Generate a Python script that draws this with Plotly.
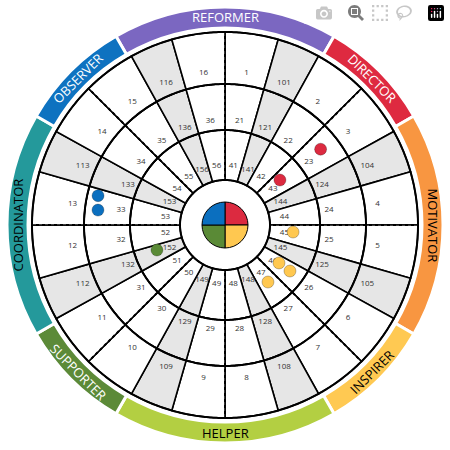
import numpy as np
import plotly.graph_objects as go

# ---- data ----
outer_labels = [1,101,2,3,104,4,5,105,6,7,108,8,9,109,10,11,112,12,13,113,14,15,116,16]
middle_labels = [21,121,22,23,124,24,25,125,26,27,128,28,29,129,30,31,132,32,33,133,34,35,136,36]
inner_labels = [41,141,42,43,144,44,45,145,46,47,148,48,49,149,50,51,152,52,53,153,54,55,156,56]
roles = ["REFORMER","DIRECTOR","MOTIVATOR","INSPIRER","HELPER","SUPPORTER","COORDINATOR","OBSERVER"]
role_centers = [0,45,90,135,180,225,270,315]
role_spans = [60,30,60,30,60,30,60,30]
role_colors = ["#7B67C1","#DE2A40","#F89641","#FFC952","#B3CF42","#5C8A38","#24999B","#0E72C0"]
role_text = ["white","white","black","black","black","white","black","white"]
quad_colors = ["#DC2A40","#FFC850","#5A8A36","#0B6FBF"]
quad_centers = [45,135,225,315]
dot_r = [130.3,127.9,122,71,68.4,66,79.6,71.4,72.5]
dot_theta = [283,276.7,51.6,50.7,95.9,125.1,125.3,143,249.8]
dot_color = ["#0B6FBF","#0B6FBF","#DC2A40","#DC2A40","#FFC850","#FFC850","#FFC850","#FFC850","#5A8A36"]

# ---- geometry/style ----
W, G = 16.0, 13.0
widths, centers, greys = [], [], []
start = 0.0
for k in range(24):
    w = G if k % 3 == 1 else W
    widths.append(w); centers.append(start + w/2); greys.append(k % 3 == 1)
    start += w
rings = [(45,95,inner_labels,60),(95,141,middle_labels,105),(141,193,outer_labels,154)]

fig = go.Figure()
for r0, r1, labs, rt in rings:
    fig.add_trace(go.Barpolar(r=[r1-r0]*24, base=[r0]*24, theta=centers, width=widths,
        marker=dict(color=["#E6E6E6" if g else "white" for g in greys],
                    line=dict(color="black", width=1.6)), hoverinfo="skip"))

# rings
th = np.linspace(0, 360, 721)
for rr in [45,95,141,193]:
    fig.add_trace(go.Scatterpolar(r=[rr]*len(th), theta=th, mode="lines",
        line=dict(color="black", width=2), hoverinfo="skip"))
# dashed lines
for t in range(0, 360, 45):
    fig.add_trace(go.Scatterpolar(r=[48,191], theta=[t,t], mode="lines",
        line=dict(color="black", width=2, dash="dot"), hoverinfo="skip"))

for r0, r1, labs, rt in rings:
    fig.add_trace(go.Scatterpolar(r=[rt]*24, theta=centers, mode="text", text=[str(l) for l in labs],
        textfont=dict(size=8, color="#333", family="Open Sans"), hoverinfo="skip"))

# role band
fig.add_trace(go.Barpolar(r=[21]*8, base=[197]*8, theta=role_centers, width=role_spans,
    marker=dict(color=role_colors, line=dict(color="white", width=3)), hoverinfo="skip"))

# centre pie
fig.add_trace(go.Barpolar(r=[23]*4, base=[0]*4, theta=quad_centers, width=[90]*4,
    marker=dict(color=quad_colors, line=dict(color="black", width=1)), hoverinfo="skip"))

# dots
fig.add_trace(go.Scatterpolar(r=dot_r, theta=dot_theta, mode="markers",
    marker=dict(size=12, color=dot_color, line=dict(color="rgba(0,0,0,0.25)", width=1)), hoverinfo="skip"))

anns = []
for name, c, col in zip(roles, role_centers, role_text):
    t = np.radians(c)
    x = 0.5 + 207.5*np.sin(t)/450
    y = 0.5 + 207.5*np.cos(t)/450
    a = ((c + 180) % 360) - 180
    ang = a if abs(a) <= 90 else a - 180 if a > 0 else a + 180
    anns.append(dict(x=x, y=y, xref="paper", yref="paper", text=name, showarrow=False,
        textangle=ang, font=dict(size=13, color=col, family="Open Sans"),
        xanchor="center", yanchor="middle"))

fig.update_layout(width=450, height=450, margin=dict(l=0,r=0,t=0,b=0), showlegend=False,
    paper_bgcolor="white", annotations=anns,
    polar=dict(domain=dict(x=[0,1], y=[0,1]), bgcolor="white", bargap=0,
        radialaxis=dict(range=[0,225], visible=False, showgrid=False),
        angularaxis=dict(rotation=90, direction="clockwise", visible=False, showgrid=False)))
fig.write_html("out.html", post_script="document.body.style.margin='0';document.body.style.overflow='hidden';")
